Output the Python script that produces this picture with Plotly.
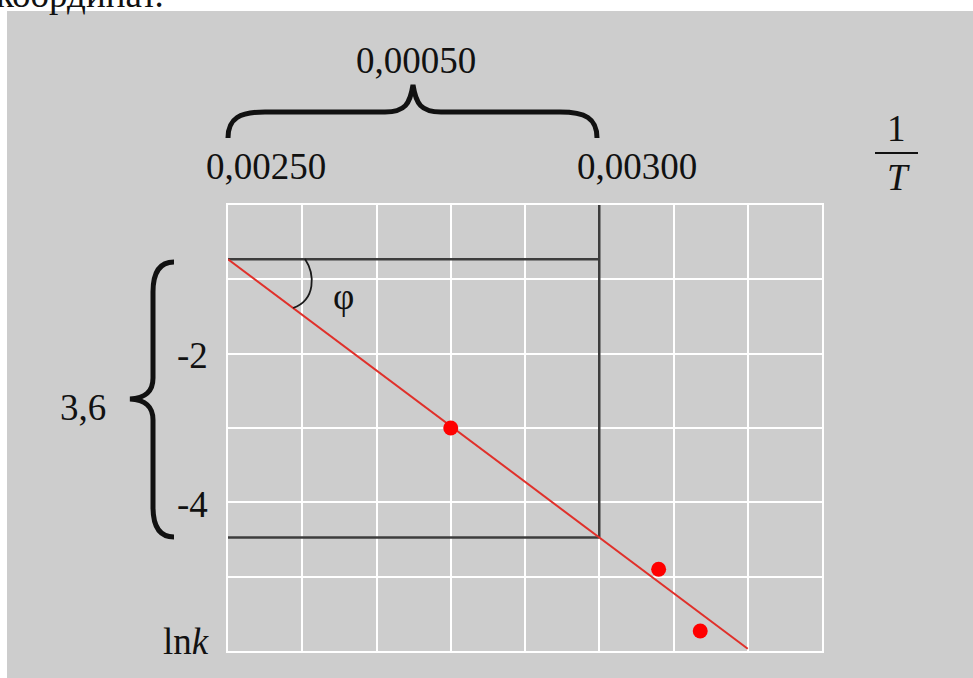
import plotly.graph_objects as go

# ---- data ----
line_x = [0.00250, 0.00320]
line_y = [-0.73, -5.97]
pts_x = [0.00280, 0.00308, 0.003136]
pts_y = [-3.00, -4.90, -5.73]
x_tick_vals = [0.00250, 0.00300]
x_tick_text = ["0,00250", "0,00300"]
y_tick_vals = [-2, -4]
y_tick_text = ["-2", "-4"]
dx_label = "0,00050"
dy_label = "3,6"

W, H = 973, 678
L, R, T, B = 228, 822, 205, 651
PW, PH = R - L, B - T

def px(x):
    return (x - L) / PW

def py(y):
    return (B - y) / PH

GRAY = "#cdcdcd"
FONT = "Liberation Serif, Times New Roman, serif"
FS = 37

fig = go.Figure()
fig.add_trace(go.Scatter(x=line_x, y=line_y, mode="lines",
                         line=dict(color="#e0302a", width=2), hoverinfo="skip"))
fig.add_trace(go.Scatter(x=pts_x, y=pts_y, mode="markers",
                         marker=dict(color="#ff0000", size=15), hoverinfo="skip"))

slope = (line_y[1] - line_y[0]) / (line_x[1] - line_x[0])
y_a = line_y[0]
y_b = line_y[0] + slope * (x_tick_vals[1] - line_x[0])
xa, xb = x_tick_vals

shapes = []
dark = dict(color="#3c3c3c", width=2.5)
shapes.append(dict(type="line", xref="x", yref="y", x0=xa, x1=xb, y0=y_a, y1=y_a, line=dark, layer="between"))
shapes.append(dict(type="line", xref="x", yref="y", x0=xb, x1=xb, y0=0, y1=y_b, line=dark, layer="between"))
shapes.append(dict(type="line", xref="x", yref="y", x0=xa, x1=xb, y0=y_b, y1=y_b, line=dark, layer="between"))

def P(x, y):
    return f"{px(x):.5f},{py(y):.5f}"

# angle arc
arc = f"M {P(305,259)} C {P(315,274)} {P(316,300)} {P(293,308)}"
shapes.append(dict(type="path", xref="paper", yref="paper", path=arc,
                   line=dict(color="#1a1a1a", width=1.8)))

# top brace
tb = (f"M {P(228,138)} C {P(228,118)} {P(240,112)} {P(265,112)} "
      f"L {P(385,112)} C {P(405,112)} {P(410,104)} {P(413,85)} "
      f"C {P(416,104)} {P(421,112)} {P(441,112)} "
      f"L {P(560,112)} C {P(585,112)} {P(597,118)} {P(597,138)}")
shapes.append(dict(type="path", xref="paper", yref="paper", path=tb,
                   line=dict(color="#111111", width=5)))

# left brace
lb = (f"M {P(174,262)} C {P(160,262)} {P(153,272)} {P(153,292)} "
      f"L {P(153,378)} C {P(153,392)} {P(145,398)} {P(130,399)} "
      f"C {P(145,400)} {P(153,406)} {P(153,420)} "
      f"L {P(153,507)} C {P(153,527)} {P(160,537)} {P(174,537)}")
shapes.append(dict(type="path", xref="paper", yref="paper", path=lb,
                   line=dict(color="#111111", width=5)))

# 1/T fraction bar
shapes.append(dict(type="line", xref="paper", yref="paper",
                   x0=px(875), x1=px(918), y0=py(153), y1=py(153),
                   line=dict(color="#111111", width=1.8)))

# white page strips (top and left)
shapes.append(dict(type="rect", xref="paper", yref="paper", x0=px(-5), x1=px(W + 5),
                   y0=py(11), y1=py(-5), fillcolor="white", line=dict(width=0), layer="above"))
shapes.append(dict(type="rect", xref="paper", yref="paper", x0=px(-5), x1=px(7),
                   y0=py(H + 5), y1=py(-5), fillcolor="white", line=dict(width=0), layer="above"))

ann = []
def text(s, x, y, xanchor="center", yanchor="middle", size=FS, **kw):
    d = dict(text=s, xref="paper", yref="paper", x=px(x), y=py(y), showarrow=False,
             xanchor=xanchor, yanchor=yanchor, font=dict(family=FONT, size=size, color="#111111"))
    d.update(kw)
    ann.append(d)

for v, t in zip(x_tick_vals, x_tick_text):
    ann.append(dict(text=t, xref="x", yref="paper", x=v, y=py(166), xanchor="left", yanchor="middle",
                    xshift=-24, showarrow=False, font=dict(family=FONT, size=FS, color="#111111")))
for v, t in zip(y_tick_vals, y_tick_text):
    ann.append(dict(text=t, xref="paper", yref="y", x=px(210), y=v, xanchor="right", yanchor="middle",
                    yshift=-2, showarrow=False, font=dict(family=FONT, size=FS, color="#111111")))

text(dx_label, 416, 60)
text(dy_label, 83, 407)
text("ln<i>k</i>", 186, 641)
text("φ", 343, 296)
text("1", 896, 128)
text("<i>T</i>", 898, 177)
text("координат.", -6, -6, xanchor="left")

fig.update_layout(
    width=W, height=H,
    margin=dict(l=L, r=W - R, t=T, b=H - B),
    paper_bgcolor=GRAY, plot_bgcolor=GRAY,
    showlegend=False,
    shapes=shapes, annotations=ann,
    xaxis=dict(range=[0.0025, 0.0033], dtick=0.0001, tick0=0.0025, showticklabels=False,
               showgrid=True, gridcolor="white", gridwidth=2, zeroline=False,
               showline=True, linecolor="white", linewidth=2, mirror=True, fixedrange=True),
    yaxis=dict(range=[-6, 0], dtick=1, tick0=0, showticklabels=False,
               showgrid=True, gridcolor="white", gridwidth=2, zeroline=False,
               showline=True, linecolor="white", linewidth=2, mirror=True, fixedrange=True),
)

fig.write_html("out.html", config={"displayModeBar": False},
               post_script="document.body.style.margin='0';document.body.style.overflow='hidden';")
